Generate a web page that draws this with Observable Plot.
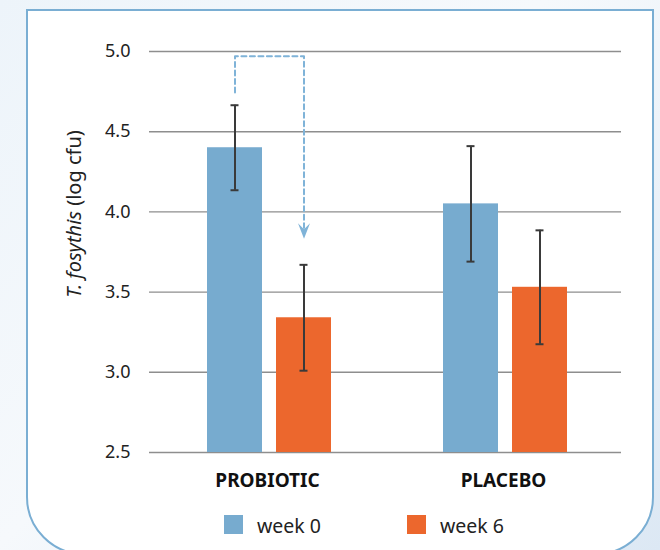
<!DOCTYPE html>
<html>
<head>
<meta charset="utf-8">
<script src="https://cdn.jsdelivr.net/npm/d3@7"></script>
<script src="https://cdn.jsdelivr.net/npm/@observablehq/plot@0.6"></script>
<style>
html, body { margin: 0; padding: 0; }
body {
  width: 660px; height: 550px; overflow: hidden; position: relative;
  background: linear-gradient(135deg, #edf4fa 0%, #f6f9fc 45%, #dce8f4 100%);
  font-family: "Noto Sans", sans-serif; color: #222;
}
#panel {
  position: absolute; left: 26px; top: 9px; width: 624px; height: 542px;
  border: 2px solid #7aaed3; border-radius: 0 0 58px 58px; background: #fff;
}
#chart { position: absolute; left: 0; top: 0; }
.item { position: absolute; top: 515px; height: 19px; }
.swatch { position: absolute; left: 0; top: 0; width: 19px; height: 19px; }
.label { position: absolute; left: 33px; top: 1px; font-size: 19.5px; line-height: 19px; white-space: nowrap; color: #222; }
</style>
</head>
<body>
<div id="panel"></div>
<div id="chart"></div>
<div id="legend"></div>
<script>
const groups = ["PROBIOTIC", "PLACEBO"];
const weeks = ["week 0", "week 6"];
const means = [[4.40, 3.34], [4.05, 3.53]];
const errors = [[0.265, 0.33], [0.36, 0.355]];
const yTicks = [2.5, 3.0, 3.5, 4.0, 4.5, 5.0];
const colors = ["#77abcf", "#ec672d"];
const yLabelItalic = "T. fosythis";
const yLabelRest = " (log cfu)";
const arrowGroup = "PROBIOTIC";
const arrowWeeks = ["week 0", "week 0", "week 6", "week 6"];
const arrowValues = [4.745, 4.97, 4.97, 3.90];
const arrowTipWeek = "week 6";
const arrowTipValue = 3.885;

const rows = groups.flatMap((g, i) => weeks.map((w, j) => ({group: g, week: w, mean: means[i][j], err: errors[i][j]})));
const arrowData = arrowWeeks.map((w, i) => ({group: arrowGroup, week: w, value: arrowValues[i]}));
const tipData = [{group: arrowGroup, week: arrowTipWeek, value: arrowTipValue}];

const arrowSymbol = {
  draw(context, size) {
    const k = Math.sqrt(size / Math.PI);
    context.moveTo(0, 1.4 * k);
    context.lineTo(-k, -1.2 * k);
    context.lineTo(0, -0.2 * k);
    context.lineTo(k, -1.2 * k);
    context.closePath();
  }
};

const errStroke = "#3a3a3a";
const arrowColor = "#7fb3d8";

const chart = Plot.plot({
  width: 660,
  height: 500,
  marginTop: 51,
  marginBottom: 48,
  marginLeft: 149,
  marginRight: 39,
  style: {background: "transparent", fontFamily: "Noto Sans, sans-serif", color: "#222", overflow: "visible"},
  fx: {domain: groups, padding: 0, label: null},
  x: {domain: weeks, paddingInner: 0.2, paddingOuter: 0.81, align: 0.52, axis: null},
  y: {domain: [2.5, 5.0], axis: null},
  color: {domain: weeks, range: colors},
  marks: [
    Plot.ruleY(yTicks, {stroke: "#8e8e8e", strokeWidth: 1.4}),
    Plot.barY(rows, {fx: "group", x: "week", y1: 2.5, y2: "mean", fill: "week"}),
    Plot.ruleX(rows, {fx: "group", x: "week", y1: d => d.mean - d.err, y2: d => d.mean + d.err, stroke: errStroke, strokeWidth: 2}),
    Plot.tickY(rows, {fx: "group", x: "week", y: d => d.mean + d.err, insetLeft: 23.5, insetRight: 23.5, stroke: errStroke, strokeWidth: 2}),
    Plot.tickY(rows, {fx: "group", x: "week", y: d => d.mean - d.err, insetLeft: 23.5, insetRight: 23.5, stroke: errStroke, strokeWidth: 2}),
    Plot.line(arrowData, {fx: "group", x: "week", y: "value", stroke: arrowColor, strokeWidth: 2, strokeDasharray: "5,3.5"}),
    Plot.dot(tipData, {fx: "group", x: "week", y: "value", symbol: arrowSymbol, r: 6, fill: arrowColor, stroke: "none"}),
    Plot.axisY(yTicks, {anchor: "left", tickSize: 0, tickPadding: 19, tickFormat: d3.format(".1f"), fontSize: 18, fill: "#222", label: null}),
    Plot.axisFx({anchor: "bottom", tickSize: 0, tickPadding: 21, fontSize: 19, fontWeight: "bold", fill: "#111", label: null})
  ]
});

const lbl = d3.select(chart).append("text")
  .attr("transform", "translate(74,214) rotate(-90)")
  .attr("text-anchor", "middle")
  .attr("dy", "0.35em")
  .attr("font-size", 20)
  .attr("fill", "#222")
  .attr("font-family", "Noto Sans, sans-serif");
lbl.append("tspan").attr("font-style", "italic").text(yLabelItalic);
lbl.append("tspan").text(yLabelRest);

document.getElementById("chart").appendChild(chart);

const legend = d3.select("#legend");
const legendLefts = [224, 407];
weeks.forEach((w, i) => {
  const item = legend.append("div").attr("class", "item").style("left", legendLefts[i] + "px");
  item.append("div").attr("class", "swatch").style("background", colors[i]);
  item.append("span").attr("class", "label").text(w);
});
</script>
</body>
</html>
